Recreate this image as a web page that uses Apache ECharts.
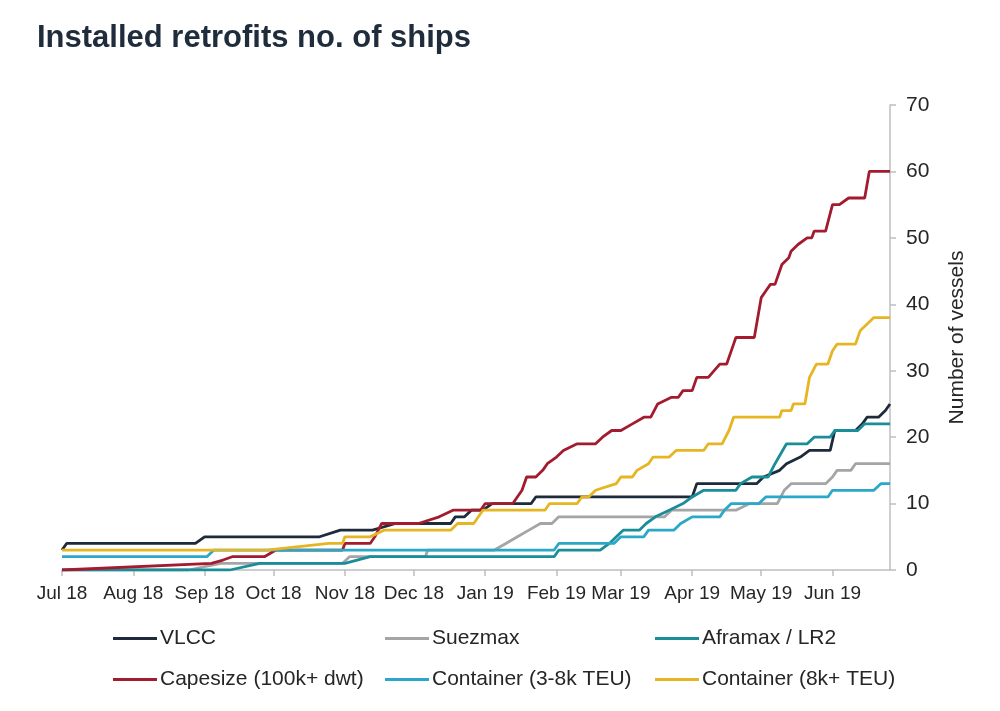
<!DOCTYPE html>
<html>
<head>
<meta charset="utf-8">
<title>Installed retrofits no. of ships</title>
<script src="https://cdn.jsdelivr.net/npm/echarts@6/dist/echarts.min.js"></script>
<style>
  html, body { margin: 0; padding: 0; width: 100%; height: 100%; background: #fff; }
  #main { width: 1000px; height: 711px; }
</style>
</head>
<body>
<div id="main"></div>
<script>
// tick positions and labels on the x axis
var monthTicks = ['2018-07-01', '2018-08-01', '2018-09-01', '2018-10-01', '2018-11-01', '2018-12-01',
  '2019-01-01', '2019-02-01', '2019-03-01', '2019-04-01', '2019-05-01', '2019-06-01'];
var monthLabels = ['Jul 18', 'Aug 18', 'Sep 18', 'Oct 18', 'Nov 18', 'Dec 18',
  'Jan 19', 'Feb 19', 'Mar 19', 'Apr 19', 'May 19', 'Jun 19'];

var seriesNames = ['VLCC', 'Suezmax', 'Aframax / LR2', 'Capesize (100k+ dwt)', 'Container (3-8k TEU)', 'Container (8k+ TEU)'];

var vlcc = [
  ['2018-07-01', 3], ['2018-07-03', 4], ['2018-08-28', 4], ['2018-09-01', 5], ['2018-10-21', 5],
  ['2018-10-30', 6], ['2018-11-13', 6], ['2018-11-23', 7], ['2018-12-17', 7], ['2018-12-19', 8],
  ['2018-12-23', 8], ['2018-12-26', 9], ['2018-12-31', 9], ['2019-01-04', 10], ['2019-01-21', 10],
  ['2019-01-23', 11], ['2019-04-01', 11], ['2019-04-03', 13], ['2019-04-29', 13], ['2019-05-02', 14],
  ['2019-05-09', 15], ['2019-05-12', 16], ['2019-05-18', 17], ['2019-05-22', 18], ['2019-05-31', 18],
  ['2019-06-02', 21], ['2019-06-11', 21], ['2019-06-14', 22], ['2019-06-16', 23], ['2019-06-21', 23],
  ['2019-06-24', 24], ['2019-06-26', 25]
];
var suezmax = [
  ['2018-07-01', 0], ['2018-08-25', 0], ['2018-09-08', 1], ['2018-10-31', 1], ['2018-11-03', 2],
  ['2018-12-06', 2], ['2018-12-07', 3], ['2019-01-05', 3], ['2019-01-10', 4], ['2019-01-15', 5],
  ['2019-01-20', 6], ['2019-01-25', 7], ['2019-01-30', 7], ['2019-02-02', 8], ['2019-03-20', 8],
  ['2019-03-23', 9], ['2019-04-20', 9], ['2019-04-26', 10], ['2019-05-08', 10], ['2019-05-11', 12],
  ['2019-05-14', 13], ['2019-05-29', 13], ['2019-06-01', 14], ['2019-06-03', 15], ['2019-06-09', 15],
  ['2019-06-11', 16], ['2019-06-26', 16]
];
var aframax = [
  ['2018-07-01', 0], ['2018-09-12', 0], ['2018-09-25', 1], ['2018-11-01', 1], ['2018-11-12', 2],
  ['2019-01-31', 2], ['2019-02-02', 3], ['2019-02-20', 3], ['2019-02-24', 4], ['2019-02-27', 5],
  ['2019-03-02', 6], ['2019-03-09', 6], ['2019-03-12', 7], ['2019-03-16', 8], ['2019-03-22', 9],
  ['2019-03-28', 10], ['2019-04-01', 11], ['2019-04-06', 12], ['2019-04-20', 12], ['2019-04-22', 13],
  ['2019-04-27', 14], ['2019-05-04', 14], ['2019-05-07', 16], ['2019-05-12', 19], ['2019-05-21', 19],
  ['2019-05-24', 20], ['2019-05-31', 20], ['2019-06-02', 21], ['2019-06-12', 21], ['2019-06-15', 22],
  ['2019-06-26', 22]
];
var capesize = [
  ['2018-07-01', 0], ['2018-09-04', 1], ['2018-09-09', 1.5], ['2018-09-13', 2], ['2018-09-27', 2],
  ['2018-10-02', 3], ['2018-10-31', 3], ['2018-11-01', 4], ['2018-11-12', 4], ['2018-11-14', 5],
  ['2018-11-17', 7], ['2018-12-03', 7], ['2018-12-12', 8], ['2018-12-18', 9], ['2018-12-30', 9],
  ['2019-01-01', 10], ['2019-01-13', 10], ['2019-01-17', 12], ['2019-01-19', 14], ['2019-01-23', 14],
  ['2019-01-26', 15], ['2019-01-28', 16], ['2019-02-01', 17], ['2019-02-04', 18], ['2019-02-10', 19],
  ['2019-02-18', 19], ['2019-02-21', 20], ['2019-02-25', 21], ['2019-03-01', 21], ['2019-03-06', 22],
  ['2019-03-11', 23], ['2019-03-14', 23], ['2019-03-17', 25], ['2019-03-23', 26], ['2019-03-26', 26],
  ['2019-03-28', 27], ['2019-04-01', 27], ['2019-04-03', 29], ['2019-04-08', 29], ['2019-04-13', 31],
  ['2019-04-16', 31], ['2019-04-19', 34], ['2019-04-20', 35], ['2019-04-28', 35], ['2019-05-01', 41],
  ['2019-05-03', 42], ['2019-05-05', 43], ['2019-05-07', 43], ['2019-05-10', 46], ['2019-05-13', 47],
  ['2019-05-14', 48], ['2019-05-17', 49], ['2019-05-21', 50], ['2019-05-23', 50], ['2019-05-24', 51],
  ['2019-05-29', 51], ['2019-06-01', 55], ['2019-06-04', 55], ['2019-06-08', 56], ['2019-06-15', 56],
  ['2019-06-17', 60], ['2019-06-26', 60]
];
var container38 = [
  ['2018-07-01', 2], ['2018-09-02', 2], ['2018-09-05', 3], ['2019-01-31', 3], ['2019-02-02', 4],
  ['2019-02-26', 4], ['2019-03-01', 5], ['2019-03-11', 5], ['2019-03-13', 6], ['2019-03-24', 6],
  ['2019-03-27', 7], ['2019-04-01', 8], ['2019-04-13', 8], ['2019-04-15', 9], ['2019-04-18', 10],
  ['2019-04-30', 10], ['2019-05-03', 11], ['2019-05-30', 11], ['2019-06-01', 12], ['2019-06-19', 12],
  ['2019-06-22', 13], ['2019-06-26', 13]
];
var container8 = [
  ['2018-07-01', 3], ['2018-09-28', 3], ['2018-10-25', 4], ['2018-10-31', 4], ['2018-11-01', 5],
  ['2018-11-12', 5], ['2018-11-18', 6], ['2018-12-17', 6], ['2018-12-20', 7], ['2018-12-27', 7],
  ['2018-12-31', 9], ['2019-01-27', 9], ['2019-01-29', 10], ['2019-02-10', 10], ['2019-02-12', 11],
  ['2019-02-15', 11], ['2019-02-18', 12], ['2019-02-27', 13], ['2019-03-01', 14], ['2019-03-06', 14],
  ['2019-03-08', 15], ['2019-03-13', 16], ['2019-03-15', 17], ['2019-03-22', 17], ['2019-03-25', 18],
  ['2019-04-06', 18], ['2019-04-08', 19], ['2019-04-14', 19], ['2019-04-17', 21], ['2019-04-19', 23],
  ['2019-05-09', 23], ['2019-05-10', 24], ['2019-05-14', 24], ['2019-05-15', 25], ['2019-05-20', 25],
  ['2019-05-22', 29], ['2019-05-25', 31], ['2019-05-30', 31], ['2019-06-01', 33], ['2019-06-03', 34],
  ['2019-06-11', 34], ['2019-06-13', 36], ['2019-06-19', 38], ['2019-06-26', 38]
];

var colors = ['#1d2b3b', '#a5a5a5', '#1a8e98', '#a31b2e', '#2aa8c8', '#e6b523'];

function toTs(s) {
  var p = s.split('-');
  return new Date(+p[0], +p[1] - 1, +p[2]).getTime();
}
function toPoints(arr) {
  return arr.map(function (d) { return [toTs(d[0]), d[1]]; });
}

var tickTs = monthTicks.map(toTs);
var allData = [vlcc, suezmax, aframax, capesize, container38, container8];

var myChart = echarts.init(document.getElementById('main'));

// one legend per entry so the columns line up like the original
var legendPos = [[113, 628], [385, 628], [655, 628], [113, 669], [385, 669], [655, 669]];
var legends = seriesNames.map(function (name, i) {
  return {
    data: [name],
    left: legendPos[i][0],
    top: legendPos[i][1],
    icon: 'rect',
    itemWidth: 44,
    itemHeight: 3,
    padding: 0,
    selectedMode: false,
    textStyle: { fontFamily: 'Liberation Sans, Arial', fontSize: 21, color: '#262626', padding: [0, 0, 0, -2] }
  };
});

myChart.setOption({
  animation: false,
  color: colors,
  title: {
    text: 'Installed retrofits no. of ships',
    left: 32,
    top: 18,
    textStyle: { fontFamily: 'Liberation Sans, Arial', fontSize: 31, fontWeight: 'bold', color: '#1f2c3c' }
  },
  legend: legends,
  grid: { left: 62, right: 110, top: 105, bottom: 141 },
  xAxis: {
    // day timestamps on a value axis so ticks can sit on month starts
    type: 'value',
    min: toTs('2018-07-01'),
    max: toTs('2019-06-26'),
    axisLine: { lineStyle: { color: '#bfbfbf', width: 1.5 } },
    axisTick: { show: true, length: 6, lineStyle: { color: '#bfbfbf', width: 1.5 }, customValues: tickTs },
    axisLabel: {
      customValues: tickTs,
      hideOverlap: false,
      showMinLabel: true,
      margin: 14,
      fontFamily: 'Liberation Sans, Arial',
      fontSize: 19,
      color: '#262626',
      formatter: function (v) {
        var i = tickTs.indexOf(v);
        return i >= 0 ? monthLabels[i] : '';
      }
    },
    splitLine: { show: false }
  },
  yAxis: {
    type: 'value',
    position: 'right',
    min: 0,
    max: 70,
    interval: 10,
    name: 'Number of vessels',
    nameLocation: 'middle',
    nameRotate: 90,
    nameGap: 57,
    nameTextStyle: { fontFamily: 'Liberation Sans, Arial', fontSize: 21, color: '#262626' },
    axisLine: { show: true, lineStyle: { color: '#bfbfbf', width: 1.5 } },
    axisTick: { show: true, length: 6, lineStyle: { color: '#bfbfbf', width: 1.5 } },
    axisLabel: { margin: 16, fontFamily: 'Liberation Sans, Arial', fontSize: 21, color: '#262626' },
    splitLine: { show: false }
  },
  series: seriesNames.map(function (name, i) {
    return {
      name: name,
      type: 'line',
      data: toPoints(allData[i]),
      showSymbol: false,
      symbol: 'none',
      lineStyle: { width: 2.8, color: colors[i] },
      itemStyle: { color: colors[i] }
    };
  })
});

window.addEventListener('resize', function () {
  myChart.resize();
});
</script>
</body>
</html>
